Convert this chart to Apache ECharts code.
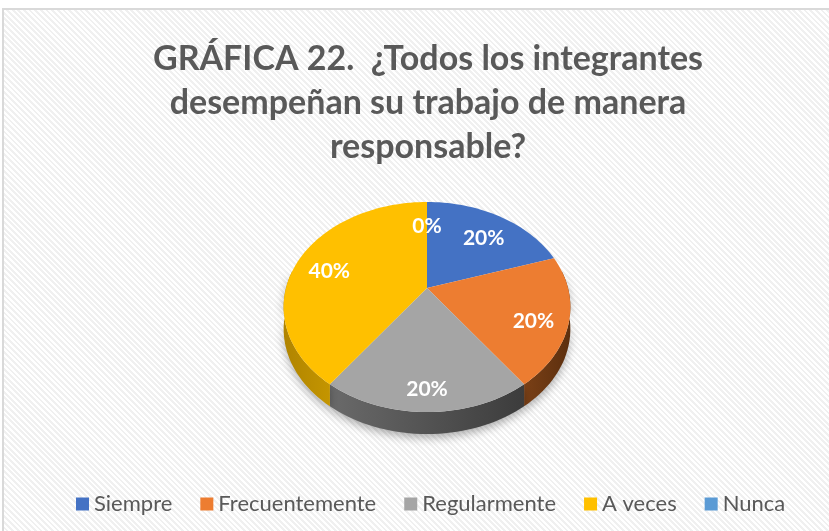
<!DOCTYPE html>
<html>
<head>
<meta charset="utf-8">
<script src="https://cdn.jsdelivr.net/npm/echarts@6/dist/echarts.min.js"></script>
<style>
html, body { margin: 0; padding: 0; background: #fff; }
#wrap { position: relative; width: 829px; height: 531px; overflow: hidden; }
#frame {
  position: absolute; left: 2px; top: 8px; width: 850px; height: 550px;
  border: 2px solid #d9d9d9;
  background: repeating-linear-gradient(45deg, #ffffff 0px, #ffffff 2px, #f0f0f0 2px, #f0f0f0 4px);
}
#chart { position: absolute; left: 0; top: 0; width: 829px; height: 531px; }
</style>
</head>
<body>
<div id="wrap">
  <div id="frame"></div>
  <div id="chart"></div>
</div>
<script>
// data
const categories = ['Siempre', 'Frecuentemente', 'Regularmente', 'A veces', 'Nunca'];
const values = [20, 20, 20, 40, 0];

const colors = ['#4472C4', '#ED7D31', '#A5A5A5', '#FFC000', '#5B9BD5'];
const sideColors = [
  ['#2f4f8a', '#34569a'],
  ['#7a4016', '#5c2f0e'],
  ['#6a6a6a', '#3c3c3c'],
  ['#b08400', '#c49500'],
  ['#3f6d96', '#3f6d96']
];

const total = values.reduce((a, b) => a + b, 0);
// pie geometry (tilted disc with a bit of perspective)
const CX = 427, CY = 288, RX = 141, RY = 101.6, P = 0.181, DEPTH = 22;

function proj(r, deg) {
  const t = deg * Math.PI / 180;
  const u = r * Math.sin(t), v = -r * Math.cos(t);
  const d = 1 - P * v;
  return [CX + RX * u / d, CY + RY * v / d, v];
}

function arc(a0, a1, r, dy) {
  const pts = [];
  const n = Math.max(2, Math.ceil(Math.abs(a1 - a0) / 2));
  for (let k = 0; k <= n; k++) {
    const p = proj(r, a0 + (a1 - a0) * k / n);
    pts.push([p[0], p[1] + dy]);
  }
  return pts;
}

function renderSlice(i) {
  return function (params, api) {
    const before = values.slice(0, i).reduce((a, b) => a + b, 0);
    const v = api.value(0);
    const a0 = before / total * 360, a1 = (before + v) / total * 360;
    const children = [];
    // side wall (front half only)
    const s0 = Math.max(a0, 80), s1 = Math.min(a1, 280);
    if (v > 0 && s1 > s0) {
      const top = arc(s0, s1, 1, 0);
      const bot = arc(s1, s0, 1, DEPTH);
      children.push({
        type: 'polygon',
        shape: { points: top.concat(bot) },
        style: {
          fill: new echarts.graphic.LinearGradient(0, 0, 1, 0, [
            { offset: 0, color: sideColors[i][0] },
            { offset: 1, color: sideColors[i][1] }
          ]),
          shadowBlur: 8, shadowColor: 'rgba(0,0,0,0.3)', shadowOffsetY: 4
        }
      });
    }
    if (v > 0) {
      children.push({
        type: 'polygon',
        shape: { points: [[CX, CY]].concat(arc(a0, a1, 1, 0)) },
        style: { fill: colors[i] }
      });
    }
    const lp = proj(0.76, (a0 + a1) / 2);
    children.push({
      type: 'text', x: lp[0], y: lp[1] + 6 + 8 * Math.max(lp[2], 0), z2: 10,
      style: {
        text: Math.round(v / total * 100) + '%',
        fill: '#ffffff', font: 'bold 21px Lato',
        align: 'center', verticalAlign: 'middle'
      }
    });
    return { type: 'group', children: children };
  };
}

const chart = echarts.init(document.getElementById('chart'));
const option = {
  backgroundColor: 'transparent',
  animation: false,
  title: {
    text: 'GRÁFICA 22.  ¿Todos los integrantes\ndesempeñan su trabajo de manera\nresponsable?',
    left: 423,
    top: 32,
    textAlign: 'center',
    textStyle: {
      fontFamily: 'Lato', fontWeight: 'bold', fontSize: 34,
      lineHeight: 44, color: '#595959'
    }
  },
  legend: {
    data: categories,
    left: 71,
    top: 488,
    icon: 'rect',
    itemWidth: 13,
    itemHeight: 13,
    itemGap: 28,
    textStyle: { color: '#595959', fontSize: 22, fontFamily: 'Lato' }
  },
  series: categories.map((name, i) => ({
    type: 'custom',
    name: name,
    coordinateSystem: 'none',
    silent: true,
    itemStyle: { color: colors[i] },
    data: [[values[i]]],
    renderItem: renderSlice(i)
  }))
};
chart.setOption(option);
window.addEventListener('resize', function () { chart.resize(); });
</script>
</body>
</html>
